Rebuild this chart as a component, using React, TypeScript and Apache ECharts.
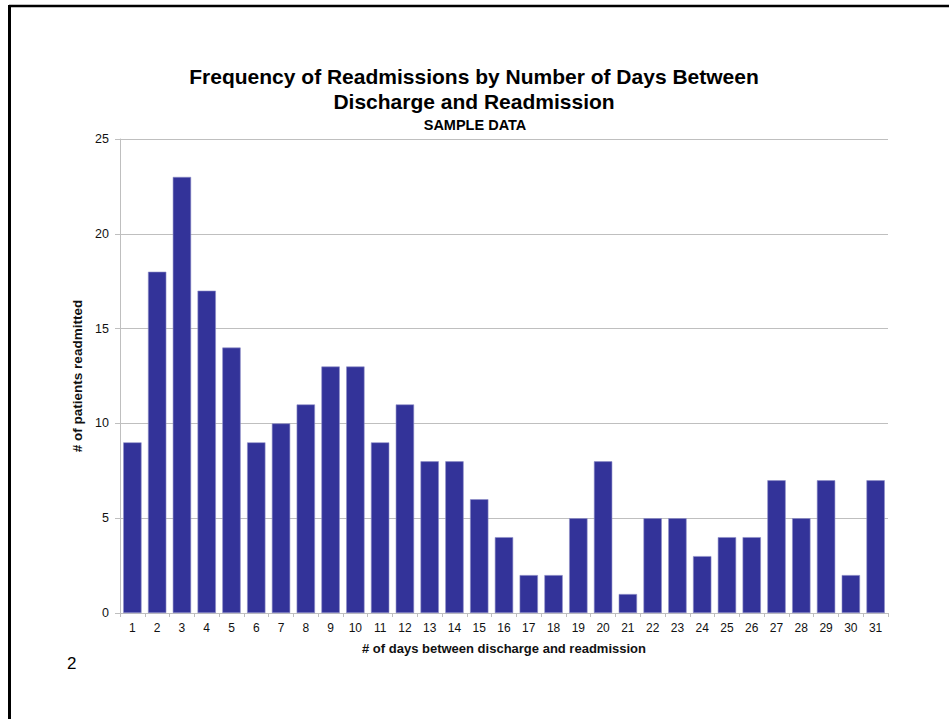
import React, { useEffect, useRef } from "react";
import * as echarts from "echarts";

// Days between discharge and readmission
const days: string[] = Array.from({ length: 31 }, (_, i) => String(i + 1));
// Number of patients readmitted on each day
const readmitted: number[] = [
  9, 18, 23, 17, 14, 9, 10, 11, 13, 13, 9, 11, 8, 8, 6, 4, 2, 2, 5, 8, 1, 5, 5, 3, 4, 4, 7, 5, 7, 2, 7,
];

const FONT = "'Liberation Sans', Arial, sans-serif";

export default function App() {
  const ref = useRef<HTMLDivElement>(null);

  useEffect(() => {
    if (!ref.current) return;
    const chart = echarts.init(ref.current, undefined, { renderer: "svg" });
    chart.setOption({
      animation: false,
      backgroundColor: "#ffffff",
      textStyle: { fontFamily: FONT },
      title: [
        {
          text: "Frequency of Readmissions by Number of Days Between\nDischarge and Readmission",
          left: 469,
          textAlign: "center",
          top: 59,
          textStyle: {
            fontFamily: FONT,
            fontSize: 21,
            fontWeight: "bold",
            color: "#000",
            lineHeight: 25,
          },
        },
        {
          text: "SAMPLE DATA",
          left: 470,
          textAlign: "center",
          top: 112,
          textStyle: {
            fontFamily: FONT,
            fontSize: 14.5,
            fontWeight: "bold",
            color: "#000",
          },
        },
      ],
      grid: { left: 120, right: 61, top: 139, bottom: 106, containLabel: false },
      xAxis: {
        type: "category",
        data: days,
        name: "# of days between discharge and readmission",
        nameLocation: "middle",
        nameGap: 29,
        nameTextStyle: { fontFamily: FONT, fontSize: 13, fontWeight: "bold", color: "#111" },
        axisLine: { show: true, lineStyle: { color: "#bfbfbf", width: 1 } },
        axisTick: { show: true, length: 4, lineStyle: { color: "#bfbfbf" } },
        axisLabel: { fontFamily: FONT, fontSize: 12, color: "#111", margin: 9 },
      },
      yAxis: {
        type: "value",
        min: 0,
        max: 25,
        interval: 5,
        name: "# of patients readmitted",
        nameLocation: "middle",
        nameGap: 24,
        nameTextStyle: { fontFamily: FONT, fontSize: 13.5, fontWeight: "bold", color: "#111" },
        axisLine: { show: true, lineStyle: { color: "#bfbfbf", width: 1 } },
        axisTick: { show: true, length: 5, lineStyle: { color: "#bfbfbf" } },
        axisLabel: { fontFamily: FONT, fontSize: 12.5, color: "#111", margin: 11 },
        splitLine: { show: true, lineStyle: { color: "#bfbfbf", width: 1 } },
      },
      series: [
        {
          type: "bar",
          data: readmitted,
          barCategoryGap: "26%",
          itemStyle: { color: "#333399", borderColor: "#8f8fc8", borderWidth: 0.6 },
        },
      ],
      graphic: [
        {
          type: "line",
          shape: { x1: 9, y1: 6, x2: 949, y2: 6 },
          style: { stroke: "#000", lineWidth: 2.5 },
          silent: true,
        },
        {
          type: "line",
          shape: { x1: 9.5, y1: 5, x2: 9.5, y2: 719 },
          style: { stroke: "#000", lineWidth: 3 },
          silent: true,
        },
        {
          type: "text",
          x: 67,
          y: 655,
          style: { text: "2", fontFamily: FONT, fontSize: 17, fill: "#000" },
          silent: true,
        },
      ],
    });
    return () => chart.dispose();
  }, []);

  return (
    <div
      ref={ref}
      style={{ position: "fixed", left: 0, top: 0, width: 949, height: 719 }}
    />
  );
}
